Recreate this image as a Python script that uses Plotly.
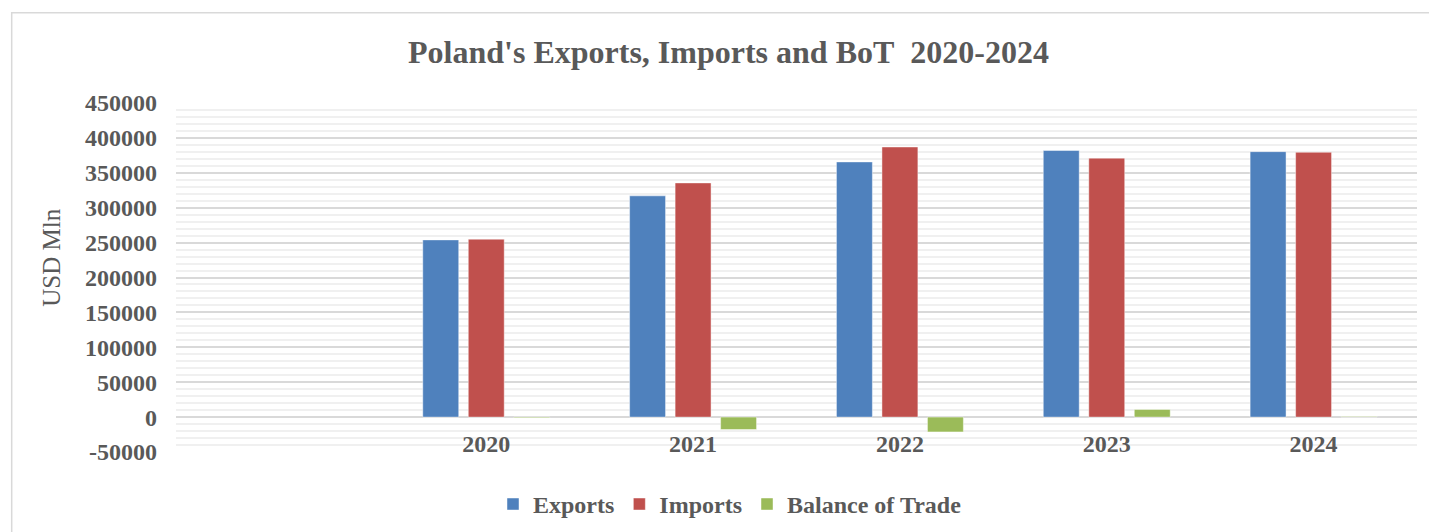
import plotly.graph_objects as go

years = ["2020", "2021", "2022", "2023", "2024"]
exports = [253900, 317000, 365600, 381900, 380300]
imports = [254900, 335500, 387000, 371000, 379400]
balance = [-1000, -17800, -21200, 11000, 900]
y_ticks = [-50000, 0, 50000, 100000, 150000, 200000, 250000, 300000, 350000, 400000, 450000]
y_tick_labels = ["-50000", "0", "50000", "100000", "150000", "200000",
                 "250000", "300000", "350000", "400000", "450000"]

FONT = "Liberation Serif, Times New Roman, serif"
GRAY = "#595959"

OFF = 8  # page body margin offset
W, H = 1437 - OFF, 532 - OFF
ml, mr, mt, mb = 176 - OFF, 20, 103 - OFF, 79.5
pw, ph = W - ml - mr, H - mt - mb

def px2x(px):
    return (px - OFF - ml) / pw

def px2y(py):
    return (H - mb - (py - OFF)) / ph

fig = go.Figure()
series = [("Exports", exports, "#4f81bd"),
          ("Imports", imports, "#c0504d"),
          ("Balance of Trade", balance, "#9bbb59")]
for name, vals, col in series:
    fig.add_trace(go.Bar(
        x=years, y=vals, name=name,
        marker=dict(color=col, line=dict(color="rgba(255,255,255,0.45)", width=1)),
    ))

fig.update_layout(
    width=W, height=H,
    margin=dict(l=ml, r=mr, t=mt, b=mb, autoexpand=False),
    paper_bgcolor="white", plot_bgcolor="white",
    barmode="group", bargap=0.34, bargroupgap=0.21,
    title=dict(text="Poland's Exports, Imports and BoT\u00a0 2020-2024",
               x=(728.5 - OFF) / W, xanchor="center", xref="container",
               y=1 - (52 - OFF) / H, yanchor="middle", yref="container",
               font=dict(family=FONT, size=32, color=GRAY, weight="bold")),
    font=dict(family=FONT, color=GRAY),
    showlegend=True,
    legend=dict(orientation="h", x=px2x(730), xanchor="center",
                y=px2y(505), yanchor="middle", yref="paper",
                font=dict(family=FONT, size=24, color=GRAY, weight="bold"),
                itemwidth=30, traceorder="normal"),
    xaxis=dict(type="category", range=[-1.5, 4.5], showgrid=False,
               showline=False, zeroline=False, ticks="",
               ticklabelstandoff=-25, automargin=False,
               tickfont=dict(family=FONT, size=24, color=GRAY, weight="bold")),
    yaxis=dict(range=[-50000, 450000], tickmode="array",
               tickvals=y_ticks, ticktext=y_tick_labels,
               showgrid=True, gridcolor="#d9d9d9", gridwidth=1.5,
               zeroline=False, showline=False, ticks="",
               ticklabelstandoff=18, automargin=False,
               tickfont=dict(family=FONT, size=24, color=GRAY, weight="bold"),
               minor=dict(dtick=10000, tick0=0, showgrid=True,
                          gridcolor="#f0f0f0", gridwidth=1.5)),
    annotations=[dict(text="USD Mln", textangle=-90, showarrow=False,
                      xref="paper", yref="paper", x=px2x(52), y=px2y(258),
                      xanchor="center", yanchor="middle",
                      font=dict(family=FONT, size=25, color=GRAY))],
    shapes=[dict(type="rect", xref="paper", yref="paper", layer="below",
                 x0=px2x(11.7), x1=px2x(1450), y0=px2y(560), y1=px2y(12.7),
                 line=dict(color="#d9d9d9", width=1.5), fillcolor="rgba(0,0,0,0)")],
)

fig.write_html("out.html")
